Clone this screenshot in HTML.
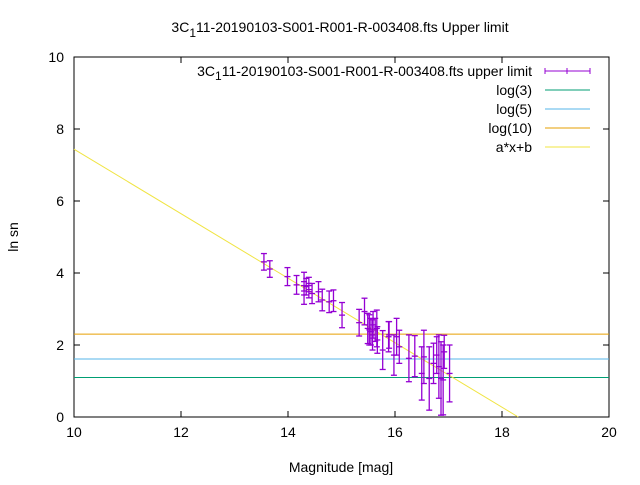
<!DOCTYPE html>
<html><head><meta charset="utf-8"><style>
body{margin:0;background:#fff}
svg{font-family:"Liberation Sans",sans-serif;font-size:14px}
</style></head><body>
<svg id="c" width="640" height="480" xmlns="http://www.w3.org/2000/svg">
<text x="340" y="32" text-anchor="middle">3C<tspan dy="5" font-size="12">1</tspan><tspan dy="-5">11-20190103-S001-R001-R-003408.fts Upper limit</tspan></text>
<text x="18" y="237" text-anchor="middle" transform="rotate(-90 18 237)">ln sn</text>
<text x="341" y="472" text-anchor="middle">Magnitude [mag]</text>
<g id="axes"></g>
<g id="series"></g>
<g id="legend"></g>
</svg>
<script>
const xs=[13.55,13.66,13.99,14.16,14.30,14.30,14.34,14.39,14.39,14.45,14.57,14.64,14.77,14.85,15.01,15.33,15.43,15.49,15.52,15.55,15.58,15.59,15.63,15.66,15.67,15.77,15.88,15.89,15.98,16.03,16.08,16.26,16.37,16.50,16.54,16.64,16.72,16.78,16.82,16.86,16.90,16.92,17.02];
const ys=[4.31,4.11,3.90,3.67,3.76,3.39,3.62,3.71,3.48,3.43,3.48,3.25,3.20,3.23,2.83,2.62,2.93,2.46,2.42,2.37,2.28,2.56,2.42,2.46,2.14,1.86,2.23,2.28,1.72,2.23,1.95,1.63,1.69,1.21,1.67,1.07,1.49,1.72,1.40,1.07,1.03,1.81,1.21];
const errs=[0.23,0.23,0.25,0.26,0.26,0.26,0.23,0.17,0.17,0.28,0.28,0.30,0.30,0.30,0.35,0.37,0.37,0.42,0.42,0.37,0.42,0.37,0.32,0.51,0.37,0.54,0.42,0.37,0.56,0.51,0.46,0.65,0.57,0.74,0.74,0.88,0.56,0.51,0.88,1.02,0.97,0.46,0.79];
const hlines=[Math.log(3),Math.log(5),Math.log(10)];
const hnames=["log(3)","log(5)","log(10)"];
const fitA=-0.896, fitB=16.4;
const xticks=[10,12,14,16,18,20];
const yticks=[0,2,4,6,8,10];
const L=74,R=609,T=57,B=417;
const X=v=>L+(v-10)/10*(R-L), Y=v=>B-v/10*(B-T);
const NS="http://www.w3.org/2000/svg";
function mk(p,t,a){const e=document.createElementNS(NS,t);for(const k in a)e.setAttribute(k,a[k]);p.appendChild(e);return e;}
const ax=document.getElementById('axes'),se=document.getElementById('series'),lg=document.getElementById('legend');
const frame=mk(ax,'rect',{x:L,y:T,width:R-L,height:B-T,fill:'none',stroke:'#000'});


xticks.forEach(v=>{
 mk(ax,'line',{x1:X(v),x2:X(v),y1:B,y2:B-6,stroke:'#000'});mk(ax,'line',{x1:X(v),x2:X(v),y1:T,y2:T+6,stroke:'#000'});
 const t=mk(ax,'text',{x:X(v),y:B+20,'text-anchor':'middle'});t.textContent=v;
 
 
});
yticks.forEach(v=>{
 mk(ax,'line',{x1:L,x2:L+6,y1:Y(v),y2:Y(v),stroke:'#000'});mk(ax,'line',{x1:R,x2:R-6,y1:Y(v),y2:Y(v),stroke:'#000'});
 const t=mk(ax,'text',{x:L-10,y:Y(v)+5,'text-anchor':'end'});t.textContent=v;
 
 
});
const cols=['#009e73','#56b4e9','#e69f00'];
hlines.forEach((v,i)=>{const l=mk(se,'line',{x1:L,x2:R,y1:Y(v),y2:Y(v),stroke:cols[i]});
 
 });
const x0=10,x1=(0-fitB)/fitA;
const fl=mk(se,'line',{x1:X(x0),y1:Y(fitA*x0+fitB),x2:X(x1),y2:Y(0),stroke:'#f0e442'});


xs.forEach((x,i)=>{
 const g=mk(se,'g',{stroke:'#9400d3','stroke-width':1.3});
 
 
 const cx=X(x),y1=Y(ys[i]+errs[i]),y2=Y(ys[i]-errs[i]);
 mk(g,'line',{x1:cx,x2:cx,y1:y1,y2:y2});
 mk(g,'line',{x1:cx-3,x2:cx+3,y1:y1,y2:y1});mk(g,'line',{x1:cx-3,x2:cx+3,y1:y2,y2:y2});
 mk(g,'line',{x1:cx-3,x2:cx+3,y1:Y(ys[i]),y2:Y(ys[i])});
});
const names=['3C₁11-20190103-S001-R001-R-003408.fts upper limit','log(3)','log(5)','log(10)','a*x+b'];
const lc=['#9400d3','#009e73','#56b4e9','#e69f00','#f0e442'];
names.forEach((n,i)=>{
 const y=71+i*19;
 const t=mk(lg,'text',{x:532,y:y+5,'text-anchor':'end'});
 if(i===0){t.innerHTML='3C<tspan dy="4" font-size="12">1</tspan><tspan dy="-4">11-20190103-S001-R001-R-003408.fts upper limit</tspan>';}else t.textContent=n;
 
 
 mk(lg,'line',{x1:545,x2:590,y1:y,y2:y,stroke:lc[i]});
 if(i===0){mk(lg,'line',{x1:545,x2:545,y1:y-3,y2:y+3,stroke:lc[0]});mk(lg,'line',{x1:590,x2:590,y1:y-3,y2:y+3,stroke:lc[0]});mk(lg,'line',{x1:567,x2:567,y1:y-3,y2:y+3,stroke:lc[0]});}
});
</script>
</body></html>
